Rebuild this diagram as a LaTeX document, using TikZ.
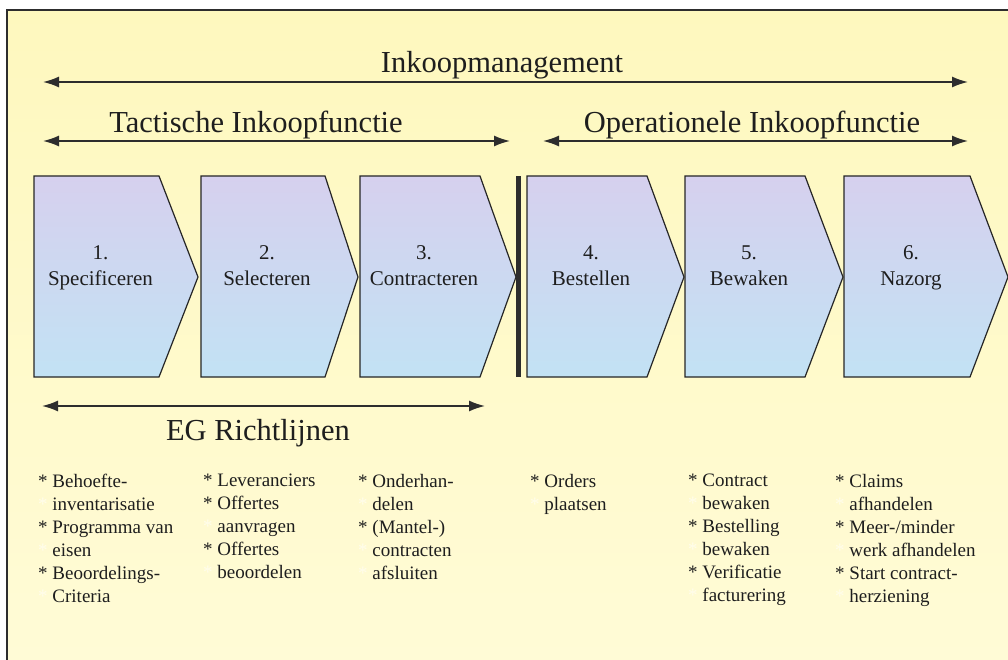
\documentclass[tikz,border=0pt]{standalone}
\usepackage{fontspec}
\setmainfont{Liberation Serif}
\usetikzlibrary{arrows.meta}
\definecolor{bgyellow}{RGB}{254,248,190}
\definecolor{bgyellowlight}{RGB}{255,251,214}
\definecolor{chevlav}{RGB}{214,208,238}
\definecolor{chevblue}{RGB}{194,226,244}
\definecolor{inkdark}{RGB}{45,45,45}
\definecolor{txt}{RGB}{30,30,30}
\newcommand{\ghoststar}{\textcolor{white!70!bgyellow}{*}}
\begin{document}
\begin{tikzpicture}[x=1pt,y=-1pt,
  span/.style={draw=inkdark, line width=1.6pt, {Latex[length=16pt,width=11pt]}-{Latex[length=16pt,width=11pt]}},
  heading/.style={anchor=base, inner sep=0pt, font=\fontsize{30.5}{36}\selectfont, text=txt},
  chev/.style={draw=black!85, line width=1.2pt, top color=chevlav, bottom color=chevblue},
  steplabel/.style={anchor=base, inner sep=0pt, font=\fontsize{21}{26}\selectfont, text=txt},
  bullets/.style={anchor=north west, inner sep=0pt, align=left, font=\fontsize{19}{23}\selectfont, text=txt},
]
\useasboundingbox (0,0) rectangle (1008,660);
\fill[white] (0,0) rectangle (1008,660);
\shade[top color=bgyellow, bottom color=bgyellowlight] (7,10) rectangle (1008,660);
\draw[inkdark, line width=2pt] (7,660) -- (7,10) -- (1008,10);

% span arrows
\coordinate (imL) at (43,82);  \coordinate (imR) at (968,82);
\coordinate (taL) at (43,141); \coordinate (taR) at (510,141);
\coordinate (opL) at (543,141); \coordinate (opR) at (968,141);
\coordinate (egL) at (42,406); \coordinate (egR) at (485,406);
\draw[span] (imL) -- (imR);
\draw[span] (taL) -- (taR);
\draw[span] (opL) -- (opR);
\draw[span] (egL) -- (egR);

\node[heading] (tim) at (502,73) {Inkoopmanagement};
\node[heading] (tta) at (256,133) {Tactische Inkoopfunctie};
\node[heading] (top) at (752,133) {Operationele Inkoopfunctie};
\node[heading] (teg) at (258,440) {EG Richtlijnen};

% chevrons
\foreach \L/\B/\T/\n/\name in {34/159/198/1/Specificeren, 201/325/358/2/Selecteren, 360/480/516/3/Contracteren, 527/647/684/4/Bestellen, 685/805/843/5/Bewaken, 844/970/1008/6/Nazorg}{
  \draw[chev] (\L,176) -- (\B,176) -- (\T,277) -- (\B,377) -- (\L,377) -- cycle;
  \node[steplabel] (num\n) at ({(\L+\B)/2+4},259) {\n.};
  \node[steplabel] (lab\n) at ({(\L+\B)/2+4},285) {\name};
}
\fill[inkdark] (516,176) rectangle (521,377);

% bullet lists
\node[bullets] (c1) at (38,474) {* Behoefte-\\ \ghoststar{} inventarisatie\\ * Programma van\\ \ghoststar{} eisen\\ * Beoordelings-\\ \ghoststar{} Criteria};
\node[bullets] (c2) at (203,474) {* Leveranciers\\ * Offertes\\ \ghoststar{} aanvragen\\ * Offertes\\ \ghoststar{} beoordelen};
\node[bullets] (c3) at (358,474) {* Onderhan-\\ \ghoststar{} delen\\ * (Mantel-)\\ \ghoststar{} contracten\\ \ghoststar{} afsluiten};
\node[bullets] (c4) at (530,474) {* Orders\\ \ghoststar{} plaatsen};
\node[bullets] (c5) at (688,474) {* Contract\\ \ghoststar{} bewaken\\ * Bestelling\\ \ghoststar{} bewaken\\ * Verificatie\\ \ghoststar{} facturering};
\node[bullets] (c6) at (835,474) {* Claims\\ \ghoststar{} afhandelen\\ * Meer-/minder\\ \ghoststar{} werk afhandelen\\ * Start contract-\\ \ghoststar{} herziening};
\end{tikzpicture}
\end{document}
